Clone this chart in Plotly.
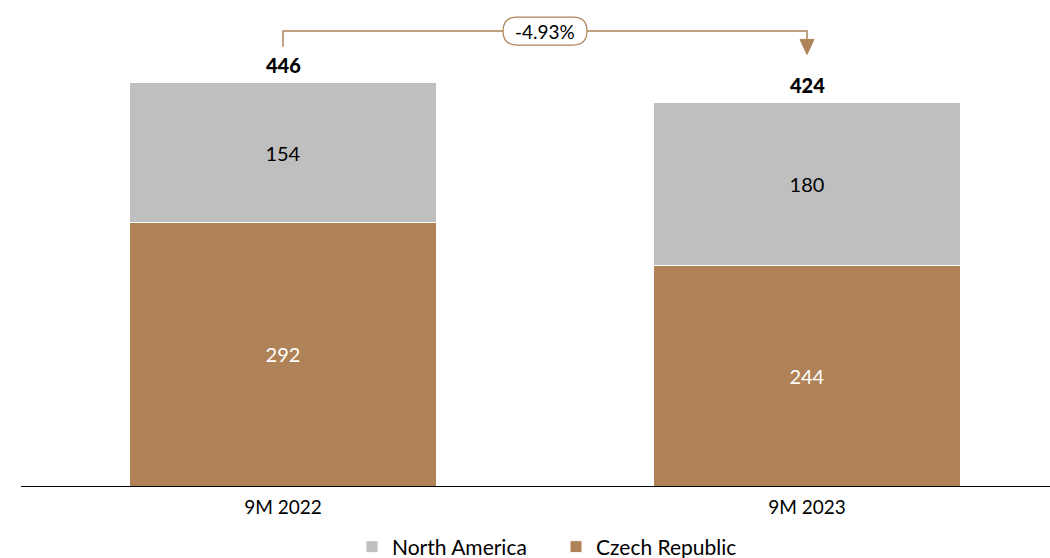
import plotly.graph_objects as go

# Revenue by region, 9M periods
periods = ["9M 2022", "9M 2023"]
czech_republic = [292, 244]
north_america = [154, 180]
totals = [a + b for a, b in zip(czech_republic, north_america)]
change_pct = (totals[1] - totals[0]) / totals[0] * 100

BROWN = "#B08257"
GREY = "#BFBFBF"
FONT = "Lato"

fig = go.Figure()
fig.add_trace(go.Bar(
    x=[0, 1], y=czech_republic, name="Czech Republic",
    marker=dict(color=BROWN, line=dict(color="white", width=1)),
    text=[str(v) for v in czech_republic], textposition="inside",
    insidetextanchor="middle", textangle=0,
    textfont=dict(color="white", size=20, family=FONT),
    hoverinfo="skip",
))
fig.add_trace(go.Bar(
    x=[0, 1], y=north_america, name="North America",
    marker=dict(color=GREY, line=dict(color="white", width=1)),
    text=[str(v) for v in north_america], textposition="inside",
    insidetextanchor="middle", textangle=0,
    textfont=dict(color="black", size=20, family=FONT),
    hoverinfo="skip",
))

# Totals above each stack
for i, t in enumerate(totals):
    fig.add_annotation(x=i, y=t, text=str(t), showarrow=False,
                       yanchor="bottom", yshift=4,
                       font=dict(size=20, color="black", family=FONT, weight=900))

# Bracket connecting the two totals
bracket_y = 503.5
fig.add_shape(type="path", xref="x", yref="y",
              path=f"M 0,{totals[0] + 40} L 0,{bracket_y} L 1,{bracket_y} L 1,{totals[1] + 68}",
              line=dict(color=BROWN, width=1.5))
# Arrow head pointing down to the 2023 total
fig.add_shape(type="path", xref="x", yref="y",
              xsizemode="pixel", ysizemode="pixel",
              xanchor=1, yanchor=totals[1] + 68,
              path="M -7,2 L 7,2 L 0,-13 Z",
              fillcolor=BROWN, line=dict(color=BROWN, width=1))
# Rounded label box for the change
w, h, r = 84, 28, 14
hw, hh = w / 2, h / 2
box = (f"M {-hw + r},{-hh} L {hw - r},{-hh} Q {hw},{-hh} {hw},{-hh + r} "
       f"L {hw},{hh - r} Q {hw},{hh} {hw - r},{hh} L {-hw + r},{hh} "
       f"Q {-hw},{hh} {-hw},{hh - r} L {-hw},{-hh + r} Q {-hw},{-hh} {-hw + r},{-hh} Z")
fig.add_shape(type="path", xref="x", yref="y",
              xsizemode="pixel", ysizemode="pixel",
              xanchor=0.5, yanchor=bracket_y, path=box,
              fillcolor="white", line=dict(color=BROWN, width=1.2))
fig.add_annotation(x=0.5, y=bracket_y, text=f"{change_pct:.2f}%", showarrow=False,
                   font=dict(size=19, color="black", family=FONT))

fig.update_layout(
    barmode="stack", bargap=0.414,
    width=1050, height=558,
    margin=dict(l=21, r=0, t=0, b=72, autoexpand=False),
    plot_bgcolor="white", paper_bgcolor="white",
    font=dict(family=FONT, color="black"),
    showlegend=True,
    legend=dict(orientation="h", traceorder="reversed",
                xref="container", yref="container",
                x=352 / 1050, xanchor="left", y=1 - 547 / 558, yanchor="middle",
                font=dict(size=21, family=FONT, color="black"),
                itemwidth=30, entrywidth=159, entrywidthmode="pixels"),
    xaxis=dict(range=[-0.5, -0.5 + 1029 / 524], tickvals=[0, 1], ticktext=periods,
               showgrid=False, zeroline=False, showline=True,
               linecolor="black", linewidth=1, ticks="",
               tickfont=dict(size=19, family=FONT, color="black"),
               ticklabelstandoff=4, fixedrange=True),
    yaxis=dict(range=[0, 486 / 0.9036], visible=False, showgrid=False,
               zeroline=False, fixedrange=True),
)

fig.write_html("out.html")
